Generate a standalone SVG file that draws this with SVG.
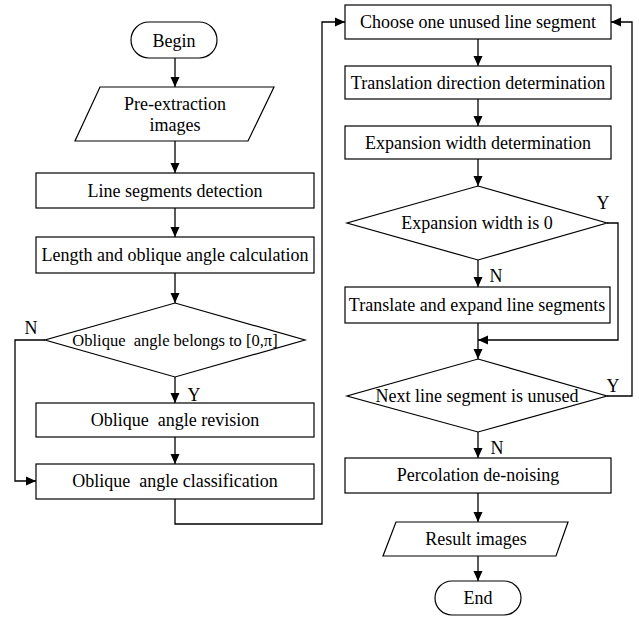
<svg xmlns="http://www.w3.org/2000/svg" width="639" height="617" viewBox="0 0 639 617">
<style>
.s{fill:#fff;stroke:#000;stroke-width:1.2}
.t{font-family:"Liberation Serif","Times New Roman",serif;font-size:18px;fill:#000;text-anchor:middle;white-space:pre}
.c{fill:none;stroke:#000;stroke-width:1.3}
</style>
<defs>
<marker id="a" viewBox="0 0 10 10" refX="10" refY="5" markerWidth="10" markerHeight="10" markerUnits="userSpaceOnUse" orient="auto">
<path d="M0,0.5 L10,5 L0,9.5 z" fill="#000"/>
</marker>
</defs>
<rect width="639" height="617" fill="#fff"/>
<g id="connectors">
<path class="c" d="M175,58 V87" marker-end="url(#a)"/>
<path class="c" d="M175,141 V173" marker-end="url(#a)"/>
<path class="c" d="M175,208 V237" marker-end="url(#a)"/>
<path class="c" d="M175,273 V303" marker-end="url(#a)"/>
<path class="c" d="M175,377 V403" marker-end="url(#a)"/>
<path class="c" d="M175,437 V464" marker-end="url(#a)"/>
<path class="c" d="M45,340 H15 V481 H36" marker-end="url(#a)"/>
<path class="c" d="M175,499 V524 H322 V22 H345" marker-end="url(#a)"/>
<path class="c" d="M478,39 V66" marker-end="url(#a)"/>
<path class="c" d="M478,99 V126" marker-end="url(#a)"/>
<path class="c" d="M478,159 V186" marker-end="url(#a)"/>
<path class="c" d="M478,260 V287" marker-end="url(#a)"/>
<path class="c" d="M478,323 V359" marker-end="url(#a)"/>
<path class="c" d="M607,223 H618 V340 H478" marker-end="url(#a)"/>
<path class="c" d="M607,396 H632 V22 H611" marker-end="url(#a)"/>
<path class="c" d="M478,432 V458" marker-end="url(#a)"/>
<path class="c" d="M478,493 V522" marker-end="url(#a)"/>
<path class="c" d="M478,556 V581" marker-end="url(#a)"/>
<text class="t" x="31" y="334">N</text>
<text class="t" x="194" y="401">Y</text>
<text class="t" x="603" y="209">Y</text>
<text class="t" x="496" y="282">N</text>
<text class="t" x="613" y="392">Y</text>
<text class="t" x="497" y="454">N</text>
</g>
<g id="begin">
<rect class="s" x="131" y="22" width="86" height="36" rx="18"/>
<text class="t" x="174" y="46.5">Begin</text>
</g>
<g id="pre">
<polygon class="s" points="100,87 274,87 248,141 75,141"/>
<text class="t" x="175" y="110">Pre-extraction</text>
<text class="t" x="175" y="131">images</text>
</g>
<g id="detect">
<rect class="s" x="36" y="173" width="278" height="35"/>
<text class="t" x="175" y="197">Line segments detection</text>
</g>
<g id="length">
<rect class="s" x="36" y="237" width="278" height="36"/>
<text class="t" x="175" y="261">Length and oblique angle calculation</text>
</g>
<g id="belongs">
<polygon class="s" points="175,303 305,340 175,377 45,340"/>
<text class="t" x="175" y="346" style="font-size:16.5px">Oblique  angle belongs to [0,π]</text>
</g>
<g id="revision">
<rect class="s" x="36" y="403" width="278" height="34"/>
<text class="t" x="175" y="426">Oblique  angle revision</text>
</g>
<g id="classification">
<rect class="s" x="36" y="464" width="278" height="35"/>
<text class="t" x="175" y="487">Oblique  angle classification</text>
</g>
<g id="choose">
<rect class="s" x="345" y="5" width="266" height="34"/>
<text class="t" x="478" y="28">Choose one unused line segment</text>
</g>
<g id="direction">
<rect class="s" x="345" y="66" width="266" height="33"/>
<text class="t" x="478" y="88.5">Translation direction determination</text>
</g>
<g id="width">
<rect class="s" x="345" y="126" width="266" height="33"/>
<text class="t" x="478" y="148.5">Expansion width determination</text>
</g>
<g id="iszero">
<polygon class="s" points="478,186 607,223 478,260 347,223"/>
<text class="t" x="477" y="229">Expansion width is 0</text>
</g>
<g id="translate">
<rect class="s" x="345" y="287" width="265" height="36"/>
<text class="t" x="477" y="311">Translate and expand line segments</text>
</g>
<g id="unused">
<polygon class="s" points="478,359 607,396 478,432 347,396"/>
<text class="t" x="477" y="402">Next line segment is unused</text>
</g>
<g id="percolation">
<rect class="s" x="345" y="458" width="266" height="35"/>
<text class="t" x="478" y="481">Percolation de-noising</text>
</g>
<g id="result">
<polygon class="s" points="396,522 568,522 556,556 383,556"/>
<text class="t" x="476" y="545">Result images</text>
</g>
<g id="end">
<rect class="s" x="435" y="581" width="86" height="34" rx="17"/>
<text class="t" x="478" y="604">End</text>
</g>
</svg>
